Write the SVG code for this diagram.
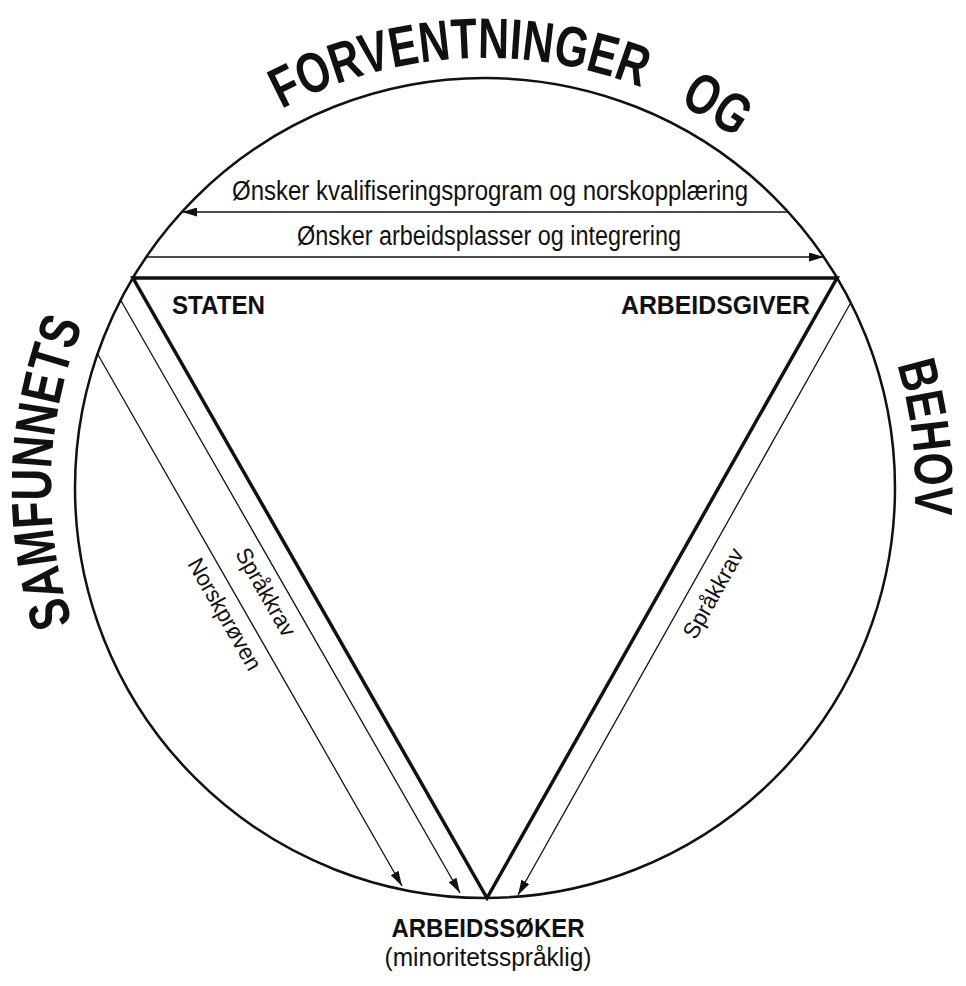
<svg xmlns="http://www.w3.org/2000/svg" xmlns:xlink="http://www.w3.org/1999/xlink" width="966" height="986" viewBox="0 0 966 986">
<style>
.circ{fill:none;stroke:#111;stroke-width:2.5}
.tri{fill:none;stroke:#111;stroke-width:3.5;stroke-linejoin:miter}
.thin{fill:none;stroke:#111;stroke-width:1.3}
.arr{fill:none;stroke:#111;stroke-width:1.6}
.big{font-family:"Liberation Sans",Arial,sans-serif;font-weight:bold;font-size:57px;fill:#111}
.lbl{font-family:"Liberation Sans",Arial,sans-serif;font-weight:bold;font-size:26px;fill:#111}
.txt{font-family:"Liberation Sans",Arial,sans-serif;font-size:27px;fill:#111}
.sub{font-family:"Liberation Sans",Arial,sans-serif;font-size:26px;fill:#111}
.rot{font-family:"Liberation Sans",Arial,sans-serif;font-size:23px;fill:#111}
</style>
<defs>
<marker id="ah" markerUnits="userSpaceOnUse" markerWidth="15" markerHeight="9" refX="15" refY="4.5" orient="auto">
<path d="M0,0 L15,4.5 L0,9 z" fill="#111"/>
</marker>
<path id="ringT" d="M 485,918 A 430 430 0 1 1 485,58 A 430 430 0 1 1 485,918"/>
<path id="ringL" d="M 485,922 A 434 434 0 1 1 485,54 A 434 434 0 1 1 485,922"/>
</defs>
<rect width="966" height="986" fill="#fff"/>
<g id="title">
<text class="big"><textPath xlink:href="#ringL" href="#ringL" startOffset="697" text-anchor="middle" textLength="305" lengthAdjust="spacingAndGlyphs">SAMFUNNETS</textPath></text>
<text class="big"><textPath xlink:href="#ringT" href="#ringT" startOffset="1325" text-anchor="middle" textLength="372" lengthAdjust="spacingAndGlyphs">FORVENTNINGER</textPath></text>
<text class="big"><textPath xlink:href="#ringT" href="#ringT" startOffset="1585" text-anchor="middle" textLength="66" lengthAdjust="spacingAndGlyphs">OG</textPath></text>
<text class="big" style="font-size:54px"><textPath xlink:href="#ringT" href="#ringT" startOffset="1977" text-anchor="middle" textLength="152" lengthAdjust="spacingAndGlyphs">BEHOV</textPath></text>
</g>
<g id="frame">
<circle class="circ" cx="485" cy="488" r="410"/>
<polygon class="tri" points="133,278 837,278 487,898"/>
</g>
<g id="connectors">
<line class="arr" x1="788" y1="212" x2="182" y2="212" marker-end="url(#ah)"/>
<line class="arr" x1="146" y1="257" x2="824" y2="257" marker-end="url(#ah)"/>
<line class="thin" x1="120" y1="299" x2="460" y2="893" marker-end="url(#ah)"/>
<line class="thin" x1="97" y1="353" x2="402" y2="886" marker-end="url(#ah)"/>
<line class="thin" x1="850" y1="304" x2="518" y2="895" marker-end="url(#ah)"/>
</g>
<g id="edge-labels">
<text class="txt" x="490" y="200" text-anchor="middle" textLength="516" lengthAdjust="spacingAndGlyphs">Ønsker kvalifiseringsprogram og norskopplæring</text>
<text class="txt" x="489" y="245" text-anchor="middle" textLength="384" lengthAdjust="spacingAndGlyphs">Ønsker arbeidsplasser og integrering</text>
<text class="rot" transform="translate(259,596) rotate(60.2)" text-anchor="middle" textLength="98" lengthAdjust="spacingAndGlyphs">Språkkrav</text>
<text class="rot" transform="translate(218,618) rotate(60.2)" text-anchor="middle" textLength="125" lengthAdjust="spacingAndGlyphs">Norskprøven</text>
<text class="rot" transform="translate(720,597) rotate(-60.6)" text-anchor="middle" textLength="100" lengthAdjust="spacingAndGlyphs">Språkkrav</text>
</g>
<g id="node-staten">
<text class="lbl" x="172" y="314" textLength="93" lengthAdjust="spacingAndGlyphs">STATEN</text>
</g>
<g id="node-arbeidsgiver">
<text class="lbl" x="621" y="314" textLength="189" lengthAdjust="spacingAndGlyphs">ARBEIDSGIVER</text>
</g>
<g id="node-arbeidssoker">
<text class="lbl" x="488" y="937" text-anchor="middle" textLength="193" lengthAdjust="spacingAndGlyphs">ARBEIDSSØKER</text>
<text class="sub" x="488" y="966" text-anchor="middle" textLength="207" lengthAdjust="spacingAndGlyphs">(minoritetsspråklig)</text>
</g>
</svg>
